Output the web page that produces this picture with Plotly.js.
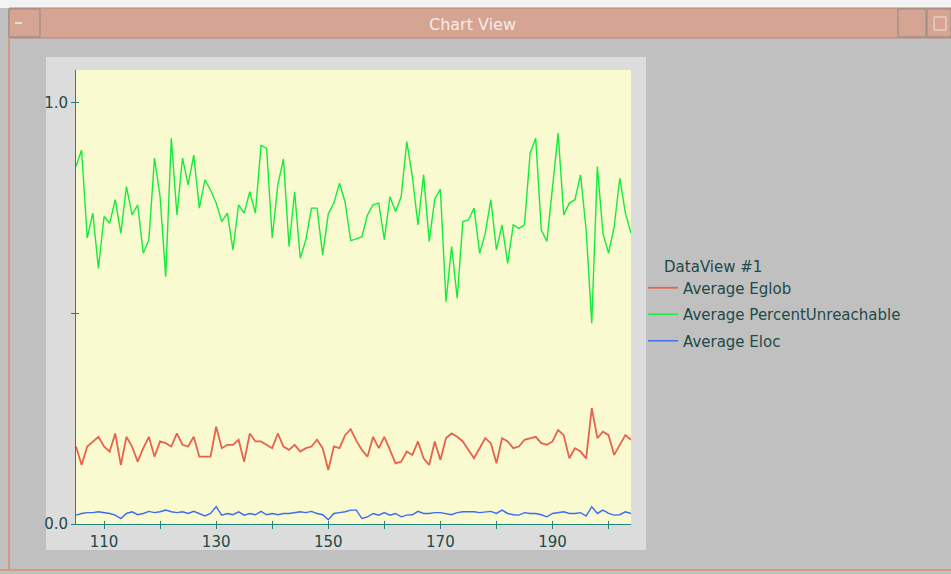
<!DOCTYPE html>
<html>
<head>
<meta charset="utf-8">
<script src="https://cdn.plot.ly/plotly-3.0.1.min.js"></script>
<style>html,body{margin:0;padding:0;background:#c0c0c0;}#chart{width:951px;height:574px;}</style>
</head>
<body>
<div id="chart"></div>
<script>
// ---- data ----
const steps = [105,106,107,108,109,110,111,112,113,114,115,116,117,118,119,120,121,122,123,124,
  125,126,127,128,129,130,131,132,133,134,135,136,137,138,139,140,141,142,143,144,
  145,146,147,148,149,150,151,152,153,154,155,156,157,158,159,160,161,162,163,164,
  165,166,167,168,169,170,171,172,173,174,175,176,177,178,179,180,181,182,183,184,
  185,186,187,188,189,190,191,192,193,194,195,196,197,198,199,200,201,202,203,204];

const avgEglob = [0.184,0.140,0.184,0.196,0.207,0.184,0.172,0.215,0.140,0.207,
  0.184,0.148,0.180,0.207,0.160,0.196,0.192,0.184,0.215,0.188,
  0.184,0.207,0.160,0.160,0.160,0.231,0.180,0.188,0.188,0.200,
  0.148,0.215,0.196,0.196,0.188,0.180,0.215,0.184,0.176,0.188,
  0.172,0.180,0.184,0.200,0.180,0.128,0.184,0.180,0.211,0.225,
  0.198,0.176,0.160,0.207,0.180,0.207,0.176,0.144,0.148,0.172,
  0.164,0.196,0.156,0.140,0.196,0.152,0.204,0.215,0.207,0.196,
  0.176,0.156,0.180,0.204,0.192,0.144,0.204,0.196,0.180,0.184,
  0.200,0.204,0.207,0.192,0.188,0.196,0.223,0.211,0.156,0.180,
  0.172,0.156,0.275,0.204,0.219,0.211,0.164,0.188,0.211,0.200];

const avgPercentUnreachable = [0.849,0.888,0.679,0.738,0.607,0.730,0.714,0.770,0.690,0.801,
  0.734,0.758,0.643,0.675,0.869,0.777,0.587,0.916,0.734,0.869,
  0.805,0.876,0.750,0.817,0.793,0.762,0.718,0.738,0.651,0.758,
  0.738,0.789,0.738,0.899,0.892,0.679,0.805,0.867,0.659,0.789,
  0.631,0.675,0.750,0.750,0.639,0.736,0.762,0.809,0.764,0.673,
  0.677,0.682,0.734,0.758,0.762,0.675,0.777,0.742,0.777,0.908,
  0.825,0.710,0.829,0.671,0.772,0.795,0.528,0.659,0.536,0.718,
  0.722,0.750,0.643,0.690,0.770,0.651,0.710,0.619,0.710,0.702,
  0.710,0.880,0.916,0.698,0.671,0.801,0.928,0.734,0.762,0.770,
  0.829,0.698,0.477,0.849,0.690,0.643,0.706,0.821,0.738,0.690];

const avgEloc = [0.021,0.025,0.027,0.027,0.029,0.027,0.025,0.021,0.013,0.025,
  0.029,0.022,0.025,0.030,0.027,0.029,0.033,0.029,0.027,0.029,
  0.025,0.030,0.025,0.019,0.025,0.041,0.021,0.025,0.022,0.029,
  0.021,0.025,0.022,0.030,0.022,0.025,0.022,0.025,0.025,0.027,
  0.029,0.027,0.030,0.025,0.022,0.010,0.025,0.027,0.029,0.033,
  0.033,0.013,0.017,0.025,0.021,0.027,0.021,0.025,0.017,0.021,
  0.022,0.030,0.025,0.025,0.027,0.027,0.025,0.022,0.027,0.029,
  0.029,0.029,0.027,0.029,0.030,0.025,0.033,0.025,0.022,0.021,
  0.027,0.025,0.025,0.022,0.017,0.025,0.027,0.029,0.025,0.025,
  0.027,0.019,0.041,0.025,0.033,0.025,0.021,0.022,0.029,0.025];

const seriesNames = ['Average Eglob', 'Average PercentUnreachable', 'Average Eloc'];
const legendTitle = 'DataView #1';
const windowTitle = 'Chart View';
const xTickVals = [110,120,130,140,150,160,170,180,190,200];
const xTickText = ['110','','130','','150','','170','','190',''];
const yTickVals = [0, 0.5, 1.0];
const yTickText = ['0.0', '', '1.0'];

// ---- layout helpers (pixel -> paper) ----
const W = 951, H = 574;
function rect(x0, y0, x1, y1, fill, line, lw) {
  return {type:'rect', xref:'paper', yref:'paper', layer:'below',
    x0:x0/W, x1:x1/W, y0:(H-y1)/H, y1:(H-y0)/H,
    fillcolor:fill, line:{color:line || fill, width: lw === undefined ? 0 : lw}};
}
function seg(x0, y0, x1, y1, color, lw) {
  return {type:'line', xref:'paper', yref:'paper', layer:'below',
    x0:x0/W, x1:x1/W, y0:(H-y0)/H, y1:(H-y1)/H, line:{color:color, width:lw}};
}

const axisColor = '#1f8479';
const textColor = '#1d4a48';
const colors = ['#e8624e', '#14ec3c', '#3a6cf2'];
const ys = [avgEglob, avgPercentUnreachable, avgEloc];

const traces = seriesNames.map((n, k) => ({
  type:'scatter', mode:'lines', name:n, x:steps, y:ys[k],
  line:{color:colors[k], width: k === 0 ? 1.8 : 1.4},
  legendgroup:'g'+k, hoverinfo:'x+y'
}));
// hidden copy on overlay axes, only to carry the inner half of the tick marks
traces.push({type:'scatter', mode:'lines', x:steps, y:avgEloc, xaxis:'x2', yaxis:'y2',
  opacity:0, showlegend:false, hoverinfo:'skip', line:{width:0}});

const xDom = [76/W, 631/W];
const yDom = [(H-524)/H, (H-70)/H];
const yRange = [0, 1.078];
const xRange = [105, 204];

const layout = {
  width: W, height: H,
  margin: {l:0, r:0, t:0, b:0},
  paper_bgcolor: '#c0c0c0',
  plot_bgcolor: 'rgba(0,0,0,0)',
  font: {family:'DejaVu Sans, sans-serif', size:15, color:textColor},
  showlegend: true,
  xaxis: {domain:xDom, range:xRange, showgrid:false, zeroline:false,
    showline:true, linecolor:axisColor, linewidth:1,
    ticks:'outside', ticklen:4, tickcolor:axisColor, tickwidth:1,
    tickmode:'array', tickvals:xTickVals, ticktext:xTickText,
    tickfont:{size:15, color:textColor}, fixedrange:true},
  yaxis: {domain:yDom, range:yRange, showgrid:false, zeroline:false,
    showline:true, linecolor:axisColor, linewidth:1,
    ticks:'outside', ticklen:4, tickcolor:axisColor, tickwidth:1,
    tickmode:'array', tickvals:yTickVals, ticktext:yTickText,
    tickfont:{size:15, color:textColor}, fixedrange:true},
  xaxis2: {overlaying:'x', domain:xDom, range:xRange, anchor:'y2', showgrid:false, zeroline:false,
    showline:false, ticks:'inside', ticklen:3, tickcolor:axisColor,
    tickmode:'array', tickvals:xTickVals, showticklabels:false},
  yaxis2: {overlaying:'y', domain:yDom, range:yRange, anchor:'x2', showgrid:false, zeroline:false,
    showline:false, ticks:'inside', ticklen:3, tickcolor:axisColor,
    tickmode:'array', tickvals:yTickVals, showticklabels:false},
  legend: {x:643/W, xanchor:'left', y:(H-252)/H, yanchor:'top',
    bgcolor:'rgba(0,0,0,0)', borderwidth:0, tracegroupgap:4,
    title:{text:'\u00a0\u00a0\u00a0\u00a0' + legendTitle, font:{size:15, color:textColor}},
    font:{size:15, color:textColor}, itemwidth:30},
  shapes: [
    rect(0, 0, 951, 8, '#f3f3f3'),
    rect(9, 8, 951, 38, '#d6a492', '#b48878', 1),
    rect(9, 9, 40, 37, '#d6a492', '#8f8a84', 1),
    seg(15, 23, 22, 23, '#eadbd4', 2),
    rect(898, 9, 926, 37, '#d6a492', '#8f8a84', 1),
    rect(927, 9, 951, 37, '#d6a492', '#8f8a84', 1),
    rect(934, 17, 946, 30, '#d6a492', '#efe2dc', 1),
    rect(46, 57, 646, 550, '#dcdcdc'),
    rect(76, 70, 631, 524, '#fafad0'),
    seg(9, 38, 9, 571, '#d49886', 2),
    seg(0, 570, 951, 570, '#d49886', 2)
  ],
  annotations: [
    {xref:'paper', yref:'paper', x:472/W, y:(H-25)/H, xanchor:'center', yanchor:'middle',
     text:windowTitle, showarrow:false, font:{family:'DejaVu Sans, sans-serif', size:16, color:'#f6ece7'}}
  ]
};

Plotly.newPlot('chart', traces, layout, {displayModeBar:false, staticPlot:true});
</script>
</body>
</html>
